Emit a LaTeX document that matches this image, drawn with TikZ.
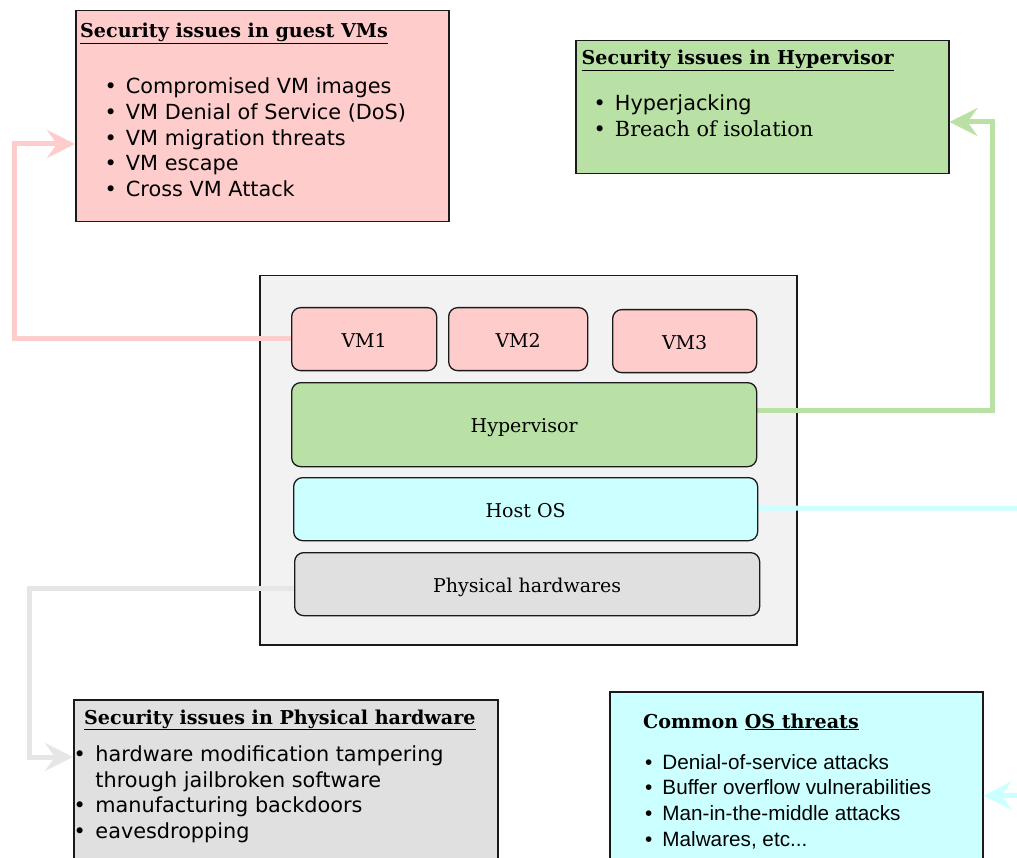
\documentclass[tikz,border=0pt]{standalone}
\usepackage{fontspec}
\setmainfont{DejaVu Serif}
\newfontfamily\dvsans{DejaVu Sans}
\newfontfamily\dvserif{DejaVu Serif}
\newfontfamily\libsans{Liberation Sans}
\usetikzlibrary{arrows.meta}
\definecolor{cpink}{HTML}{FFCCCC}
\definecolor{cgreen}{HTML}{B9E0A5}
\definecolor{ccyan}{HTML}{CCFFFF}
\definecolor{cgray}{HTML}{E0E0E0}
\definecolor{cgrayline}{HTML}{E6E6E6}
\definecolor{cbig}{HTML}{F2F2F2}
\definecolor{cborder}{HTML}{1A1A1A}
\begin{document}
\begin{tikzpicture}[x=1pt,y=-1pt,
  infobox/.style={draw=cborder, line width=1.5pt, inner sep=0pt, anchor=north west},
  layerbox/.style={draw=cborder, line width=1.3pt, rounded corners=9pt, inner sep=0pt,
     anchor=north west, text height=16pt, text depth=0pt,
     font=\dvserif\fontsize{19}{23}\selectfont},
  conn/.style={line width=5pt, -{Stealth[length=28pt,width=28pt,inset=10pt]}},
  title/.style={anchor=base west, inner sep=0pt, font=\dvserif\bfseries\fontsize{19.1}{23}\selectfont},
  itemlist/.style={anchor=base west, inner sep=0pt, font=\dvsans\fontsize{20.8}{25.6}\selectfont},
  oslist/.style={anchor=base west, inner sep=0pt, font=\libsans\fontsize{20.7}{25.7}\selectfont}]
\useasboundingbox (0,0) rectangle (1017,858);

% boxes
\node[infobox, fill=cpink, minimum width=373pt, minimum height=211pt] (gvm) at (75,10) {};
\node[infobox, fill=cgreen, minimum width=373pt, minimum height=133pt] (hvb) at (575,40) {};
\node[infobox, fill=cgray, minimum width=424pt, minimum height=200pt] (hwb) at (73,699) {};
\node[infobox, fill=ccyan, minimum width=373pt, minimum height=208pt] (osb) at (609,691) {};
\node[infobox, fill=cbig, minimum width=537pt, minimum height=369pt] (big) at (259,275) {};

% connectors
\draw[conn, cpink] (291,339) -- (14,339) -- (14,144) -- (gvm.west |- 0,144);
\draw[conn, cgreen] (756,410) -- (992,410) -- (992,122) -- (hvb.east |- 0,122);
\draw[conn, ccyan] (757,508) -- (1045,508) -- (1045,795) -- (osb.east);
\draw[conn, cgrayline] (294,588) -- (29,588) -- (29,757) -- (hwb.west |- 0,757);

% layers
\node[layerbox, fill=cpink, minimum width=145pt, minimum height=63pt] (vm1) at (291,307) {VM1};
\node[layerbox, fill=cpink, minimum width=139pt, minimum height=63pt] (vm2) at (448,307) {VM2};
\node[layerbox, fill=cpink, minimum width=144pt, minimum height=63pt] (vm3) at (612,309) {VM3};
\node[layerbox, fill=cgreen, minimum width=465pt, minimum height=84pt] (hyp) at (291,382) {Hypervisor};
\node[layerbox, fill=ccyan, minimum width=464pt, minimum height=63pt] (hos) at (293,477) {Host OS};
\node[layerbox, fill=cgray, minimum width=465pt, minimum height=63pt] (phw) at (294,552) {Physical hardwares};

% titles
\node[title] (t1) at (80,37.5) {\underline{Security issues in guest VMs}};
\node[title] (t2) at (581.5,64.3) {\underline{Security issues in Hypervisor}};
\node[title] (t3) at (84,724) {\underline{Security issues in Physical hardware}};
\node[title] (t4) at (643,728) {Common \underline{OS threats}};

% lists
\node[itemlist] (l1) at (104.5,94) {\begin{tabular}[t]{@{}l@{\hspace{9pt}}l@{}}
\textbullet & Compromised VM images\\
\textbullet & VM Denial of Service (DoS)\\
\textbullet & VM migration threats\\
\textbullet & VM escape\\
\textbullet & Cross VM Attack
\end{tabular}};
\node[itemlist] (l2) at (593.5,111) {\begin{tabular}[t]{@{}l@{\hspace{9pt}}l@{}}
\textbullet & Hyperjacking\\[0.4pt]
\textbullet & {\dvserif Breach of isolation}
\end{tabular}};
\node[itemlist] (l3) at (73.5,761.5) {\begin{tabular}[t]{@{}l@{\hspace{9.5pt}}l@{}}
\textbullet & hardware modification tampering\\
 & through jailbroken software\\
\textbullet & manufacturing backdoors\\
\textbullet & eavesdropping
\end{tabular}};
\node[oslist] (l4) at (645,769) {\begin{tabular}[t]{@{}l@{\hspace{10pt}}l@{}}
\textbullet & Denial-of-service attacks\\
\textbullet & Buffer overflow vulnerabilities\\
\textbullet & Man-in-the-middle attacks\\
\textbullet & Malwares, etc...
\end{tabular}};
\end{tikzpicture}
\end{document}
